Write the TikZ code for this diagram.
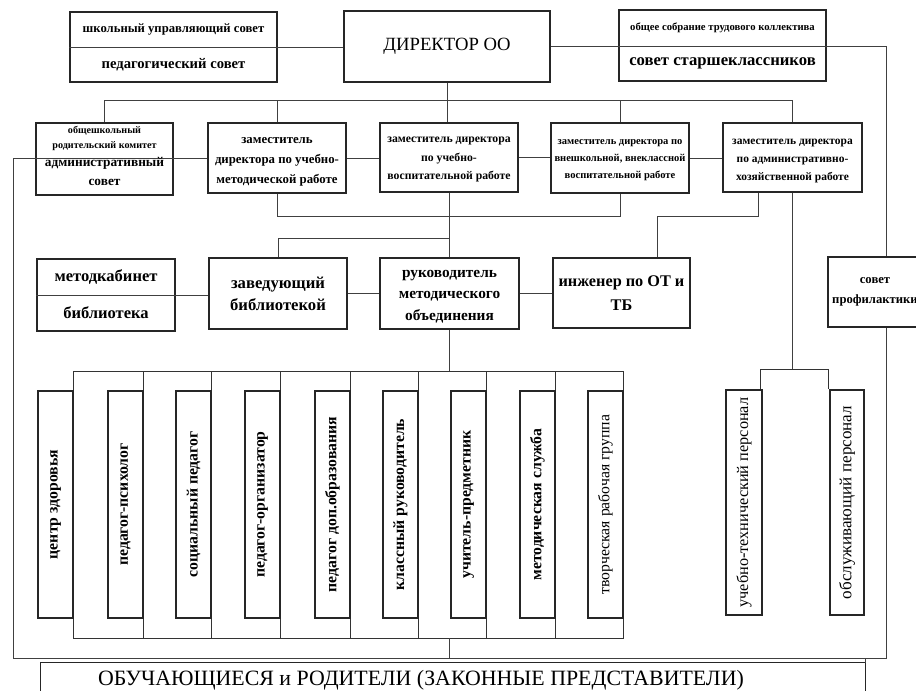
\documentclass[tikz,border=0pt]{standalone}
\usepackage{fontspec}
\setmainfont{Liberation Serif}
\usetikzlibrary{fit}
\newcommand\fsz[2]{\fontsize{#1}{#2}\selectfont}
\begin{document}
\begin{tikzpicture}[x=0.75pt,y=-0.75pt,
  bx/.style={draw=black!85,line width=0.9pt,inner sep=0pt,fill=white},
  fr/.style={draw=black!80,line width=0.7pt,inner sep=0pt},
  ln/.style={draw=black!75,line width=0.6pt},
  tx/.style={align=center,inner sep=0pt,text=black},
  vt/.style={tx,rotate=90}]
\useasboundingbox[fill=white] (0,0) rectangle (916,691);

% helper coordinates
\coordinate (b1) at (0,100);
\coordinate (b2) at (0,216);
\coordinate (b3) at (0,238);
\coordinate (ol) at (13,0);
\coordinate (ob) at (0,658);
\coordinate (orr) at (886,0);
\coordinate (z5a) at (758,0);
\coordinate (ix) at (657,0);
\coordinate (rf1) at (760,369);
\coordinate (rf2) at (828,369);

% ---------- top row ----------
\node[bx,fit={(70,12)(277,82)}] (scs) {};
\draw[ln] (scs.west) -- (scs.east);
\node[tx,font=\bfseries\fsz{9.5}{11}] (scsA) at (173.5,30) {школьный управляющий совет};
\node[tx,font=\bfseries\fsz{11}{13}] (scsB) at (173.5,65) {педагогический совет};

\node[bx,fit={(344,11)(550,82)}] (dir) {};
\node[tx,font=\fsz{14}{16}] (dirT) at (dir.center) {ДИРЕКТОР ОО};

\node[bx,fit={(619,10)(826,81)}] (osc) {};
\node[tx,font=\bfseries\fsz{8}{10}] (oscA) at (722.5,28) {общее собрание трудового коллектива};
\node[tx,font=\bfseries\fsz{12.5}{14}] (oscB) at (722.5,63) {совет старшеклассников};

% ---------- second row ----------
\node[bx,fit={(36,123)(173,195)}] (z1) {};
\node[bx,fit={(208,123)(346,193)}] (z2) {};
\node[tx,font=\bfseries\fsz{9.6}{15},yshift=-2.6pt] (z2t) at (z2.center) {заместитель\\директора по учебно-\\методической работе};
\node[bx,fit={(380,123)(518,192)}] (z3) {};
\node[tx,font=\bfseries\fsz{8.8}{14},yshift=-1.5pt] (z3t) at (z3.center) {заместитель директора\\по учебно-\\воспитательной работе};
\node[bx,fit={(551,123)(689,193)}] (z4) {};
\node[tx,font=\bfseries\fsz{7.9}{12.75},yshift=-1.5pt] (z4t) at (z4.center) {заместитель директора по\\внешкольной, внеклассной\\воспитательной работе};
\node[bx,fit={(723,123)(862,192)}] (z5) {};
\node[tx,font=\bfseries\fsz{8.6}{13.5},yshift=-3pt] (z5t) at (z5.center) {заместитель директора\\по административно-\\хозяйственной работе};

% ---------- third row ----------
\node[bx,fit={(37,259)(175,331)}] (lib) {};
\draw[ln] (lib.west) -- (lib.east);
\node[tx,font=\bfseries\fsz{12.4}{14}] (libA) at (106,277) {методкабинет};
\node[tx,font=\bfseries\fsz{12.4}{14}] (libB) at (106,313) {библиотека};
\node[bx,fit={(209,258)(347,329)}] (zav) {};
\node[tx,font=\bfseries\fsz{12.5}{16.5}] (zavt) at (zav.center) {заведующий\\библиотекой};
\node[bx,fit={(380,258)(519,329)}] (ruk) {};
\node[tx,font=\bfseries\fsz{11.5}{16},yshift=-2.3pt] (rukt) at (ruk.center) {руководитель\\методического\\объединения};
\node[bx,fit={(553,258)(690,328)}] (inzh) {};
\node[tx,font=\bfseries\fsz{12.2}{18}] (inzht) at (inzh.center) {инженер по ОТ и\\ТБ};
\node[bx,fit={(828,257)(922,327)}] (prof) {};
\node[tx,font=\bfseries\fsz{9.5}{15}] (proft) at (875,292) {совет\\профилактики};

% ---------- connectors (upper part) ----------
\draw[ln] (scs.east) -- (scs.east -| dir.west);
\draw[ln] (dir.east) -- (dir.east -| orr) -- (orr |- prof.north);
\draw[ln] (dir.south) -- (dir.south |- z3.north);
\draw[ln] (z1.north) -- (z1.north |- b1) -- (z5.north |- b1) -- (z5.north);
\draw[ln] (z2.north) -- (z2.north |- b1);
\draw[ln] (z4.north) -- (z4.north |- b1);
\draw[ln] (z2.east) -- (z2.east -| z3.west);
\draw[ln] (z3.east) -- (z3.east -| z4.west);
\draw[ln] (z4.east) -- (z4.east -| z5.west);
\draw[ln] (z2.south) -- (z2.south |- b2) -- (z4.south |- b2) -- (z4.south);
\draw[ln] (z3.south) -- (z3.south |- ruk.north);
\draw[ln] (zav.north) -- (zav.north |- b3) -- (z3.south |- b3);
\draw[ln] (z5a |- z5.south) -- (z5a |- b2) -- (ix |- b2) -- (ix |- inzh.north);
\draw[ln] (lib.east) -- (lib.east -| zav.west);
\draw[ln] (zav.east) -- (zav.east -| ruk.west);
\draw[ln] (ruk.east) -- (ruk.east -| inzh.west);

% outer frame (crosses the first second-row box)
\draw[ln] (z2.west) -- (z2.west -| ol) -- (ol |- ob) -- (orr |- ob) -- (orr |- prof.south);
\node[tx,font=\bfseries\fsz{7.6}{11.25}] (z1a) at (104.5,138.5) {общешкольный\\родительский комитет};
\node[tx,font=\bfseries\fsz{10}{14.25}] (z1b) at (104.5,171.5) {административный\\совет};

% ---------- lower left group ----------
\foreach \i/\a/\b in {1/73/143,2/143/211,3/211/280,4/280/350,5/350/418,6/418/486,7/486/555,8/555/623}
  {\node[fr,fit={(\a,371)(\b,638)}] (fr\i) {};}
\foreach \i/\b/\f/\t in {1/73/\bfseries/центр здоровья,
    2/143/\bfseries/педагог-психолог,
    3/211/\bfseries/социальный педагог,
    4/280/\bfseries/педагог-организатор,
    5/350/\bfseries/педагог доп.образования,
    6/418/\bfseries/классный руководитель,
    7/486/\bfseries/учитель-предметник,
    8/555/\bfseries/методическая служба,
    9/623/\mdseries/творческая рабочая группа}
  {\node[bx,fit={(\b-35,391)(\b,618)}] (v\i) {};
   \node[vt,font=\f\fsz{11.8}{14}] (vt\i) at (v\i.center) {\t};}

\draw[ln] (ruk.south) -- (ruk.south |- fr6.north);
\draw[ln] (ruk.south |- fr6.south) -- (ruk.south |- ob);

% ---------- lower right group ----------
\node[bx,fit={(726,390)(762,615)}] (vA) {};
\node[vt,font=\fsz{12.2}{14}] (vtA) at (vA.center) {учебно-технический персонал};
\node[bx,fit={(830,390)(864,615)}] (vB) {};
\node[vt,font=\fsz{12.8}{14}] (vtB) at (vB.center) {обслуживающий персонал};
\draw[fr] (rf1 |- vA.north) -- (rf1) -- (rf2) -- (rf2 |- vB.north);
\draw[ln] (z5.south) -- (z5.south |- rf1);

% ---------- bottom ----------
\node[inner sep=0pt,fit={(41,663)(865,691)}] (stud) {};
\draw[bx] (stud.south west) -- (stud.north west) -- (stud.north east) -- (stud.south east);
\draw[ln] (stud.north east) -- (stud.north east |- ob);
\node[tx,font=\fsz{16.4}{18}] (studT) at (421,680) {ОБУЧАЮЩИЕСЯ и РОДИТЕЛИ (ЗАКОННЫЕ ПРЕДСТАВИТЕЛИ)};
\end{tikzpicture}
\end{document}
